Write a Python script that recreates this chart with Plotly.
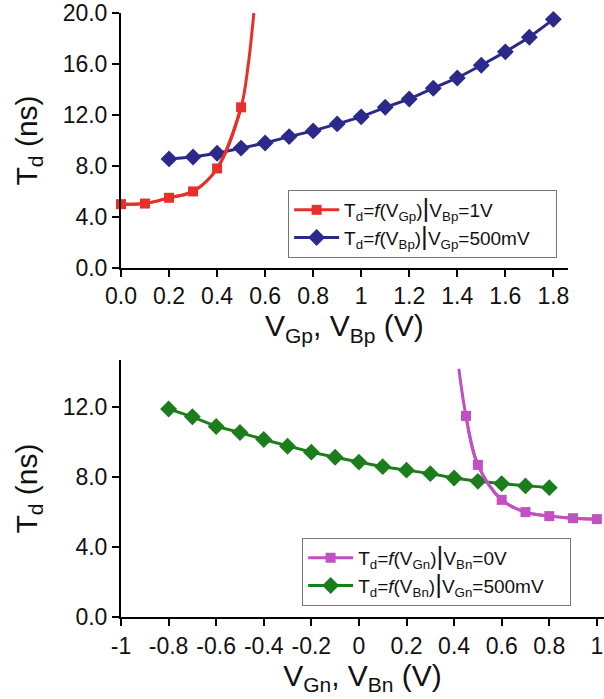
import plotly.graph_objects as go

# ---- Top panel data ----
vgp = [0.0, 0.1, 0.2, 0.3, 0.4, 0.5]
td_vgp = [5.0, 5.05, 5.5, 6.0, 7.8, 12.6]
# red curve continues beyond the last marker
vgp_curve = [0.0, 0.1, 0.2, 0.3, 0.4, 0.5, 0.53, 0.553]
td_vgp_curve = [5.0, 5.05, 5.5, 6.0, 7.8, 12.6, 16.0, 20.0]

vbp = [0.2, 0.3, 0.4, 0.5, 0.6, 0.7, 0.8, 0.9, 1.0, 1.1, 1.2, 1.3, 1.4, 1.5, 1.6, 1.7, 1.8]
td_vbp = [8.55, 8.7, 9.0, 9.4, 9.8, 10.3, 10.75, 11.3, 11.85, 12.6, 13.25, 14.1, 14.9, 15.9, 16.95, 18.1, 19.5]

# ---- Bottom panel data ----
vgn = [0.45, 0.5, 0.6, 0.7, 0.8, 0.9, 1.0]
td_vgn = [11.5, 8.7, 6.7, 6.0, 5.77, 5.65, 5.6]
vgn_curve = [0.42, 0.45, 0.5, 0.6, 0.7, 0.8, 0.9, 1.0]
td_vgn_curve = [14.2, 11.5, 8.7, 6.7, 6.0, 5.77, 5.65, 5.6]

vbn = [-0.8, -0.7, -0.6, -0.5, -0.4, -0.3, -0.2, -0.1, 0.0, 0.1, 0.2, 0.3, 0.4, 0.5, 0.6, 0.7, 0.8]
td_vbn = [11.9, 11.45, 10.9, 10.55, 10.15, 9.77, 9.43, 9.14, 8.86, 8.6, 8.4, 8.2, 7.95, 7.76, 7.63, 7.5, 7.4]

top_xticks = [0.0, 0.2, 0.4, 0.6, 0.8, 1.0, 1.2, 1.4, 1.6, 1.8]
top_xtext = ["0.0", "0.2", "0.4", "0.6", "0.8", "1", "1.2", "1.4", "1.6", "1.8"]
top_yticks = [0, 4, 8, 12, 16, 20]
top_ytext = ["0.0", "4.0", "8.0", "12.0", "16.0", "20.0"]
bot_xticks = [-1, -0.8, -0.6, -0.4, -0.2, 0, 0.2, 0.4, 0.6, 0.8, 1]
bot_xtext = ["-1", "-0.8", "-0.6", "-0.4", "-0.2", "0", "0.2", "0.4", "0.6", "0.8", "1"]
bot_yticks = [0, 4, 8, 12]
bot_ytext = ["0.0", "4.0", "8.0", "12.0"]

RED = "#e8302a"
BLUE = "#2b2a8a"
MAG = "#c150c2"
GREEN = "#1b7d1b"
FONT = "Liberation Sans, Arial, sans-serif"

BAR = "<span style='font-size:26px'>|</span>"
PAD = "&nbsp;&nbsp;&nbsp;&nbsp;"
lab_red = "T<sub>d</sub>=<i>f</i>(V<sub>Gp</sub>)" + BAR + "V<sub>Bp</sub>=1V"
lab_blue = "T<sub>d</sub>=<i>f</i>(V<sub>Bp</sub>)" + BAR + "V<sub>Gp</sub>=500mV" + PAD
lab_mag = "T<sub>d</sub>=<i>f</i>(V<sub>Gn</sub>)" + BAR + "V<sub>Bn</sub>=0V"
lab_green = "T<sub>d</sub>=<i>f</i>(V<sub>Bn</sub>)" + BAR + "V<sub>Gn</sub>=500mV" + PAD

fig = go.Figure()

# Top panel
fig.add_trace(go.Scatter(x=vbp, y=td_vbp, mode="lines+markers", name=lab_blue,
                         line=dict(color=BLUE, width=3),
                         marker=dict(symbol="diamond", size=13, color=BLUE),
                         xaxis="x", yaxis="y", cliponaxis=False, legend="legend", legendrank=2))
fig.add_trace(go.Scatter(x=vgp_curve, y=td_vgp_curve, mode="lines", line=dict(color=RED, width=3, shape="spline"),
                         showlegend=False, xaxis="x", yaxis="y", cliponaxis=False, hoverinfo="skip"))
fig.add_trace(go.Scatter(x=vgp, y=td_vgp, mode="lines+markers", name=lab_red,
                         line=dict(color=RED, width=3, shape="spline"),
                         marker=dict(symbol="square", size=10, color=RED),
                         xaxis="x", yaxis="y", cliponaxis=False, legend="legend", legendrank=1))

# Bottom panel
fig.add_trace(go.Scatter(x=vbn, y=td_vbn, mode="lines+markers", name=lab_green,
                         line=dict(color=GREEN, width=3),
                         marker=dict(symbol="diamond", size=13, color=GREEN),
                         xaxis="x2", yaxis="y2", cliponaxis=False, legend="legend2", legendrank=2))
fig.add_trace(go.Scatter(x=vgn_curve, y=td_vgn_curve, mode="lines", line=dict(color=MAG, width=3, shape="spline"),
                         showlegend=False, xaxis="x2", yaxis="y2", cliponaxis=False, hoverinfo="skip"))
fig.add_trace(go.Scatter(x=vgn, y=td_vgn, mode="lines+markers", name=lab_mag,
                         line=dict(color=MAG, width=3, shape="spline"),
                         marker=dict(symbol="square", size=10, color=MAG),
                         xaxis="x2", yaxis="y2", cliponaxis=False, legend="legend2", legendrank=1))

axis_common = dict(showline=True, linecolor="black", linewidth=2, ticks="outside", ticklen=7,
                   tickwidth=2, tickcolor="black", showgrid=False, zeroline=False, automargin=False,
                   tickfont=dict(family=FONT, size=23, color="#111"))

title_font = dict(family=FONT, size=30, color="#111")

fig.update_layout(
    width=604, height=699,
    margin=dict(l=121, r=0, t=13, b=82),
    plot_bgcolor="white", paper_bgcolor="white",
    font=dict(family=FONT, color="#111"),
    xaxis=dict(domain=[0, 0.925], range=[0, 1.86], anchor="y",
               tickvals=top_xticks, ticktext=top_xtext,
               title=dict(text="V<sub>Gp</sub>, V<sub>Bp</sub> (V)", font=title_font, standoff=0),
               **axis_common),
    yaxis=dict(domain=[0.578, 1.0], range=[0, 20], anchor="x",
               tickvals=top_yticks, ticktext=top_ytext,
               title=dict(text="T<sub>d</sub> (ns)", font=title_font, standoff=16),
               **axis_common),
    xaxis2=dict(domain=[0, 1.0], range=[-1, 1.03], anchor="y2",
                tickvals=bot_xticks, ticktext=bot_xtext,
                title=dict(text="V<sub>Gn</sub>, V<sub>Bn</sub> (V)", font=title_font, standoff=0),
                **axis_common),
    yaxis2=dict(domain=[0, 0.4255], range=[0, 14.7], anchor="x2",
                tickvals=bot_yticks, ticktext=bot_ytext,
                title=dict(text="T<sub>d</sub> (ns)", font=title_font, standoff=16),
                **axis_common),
    legend=dict(x=0.346, y=0.707, xanchor="left", yanchor="top", bgcolor="white",
                bordercolor="#777", borderwidth=1, font=dict(family=FONT, size=19, color="#111"),
                tracegroupgap=0, itemwidth=45),
    legend2=dict(x=0.375, y=0.131, xanchor="left", yanchor="top", bgcolor="white",
                 bordercolor="#777", borderwidth=1, font=dict(family=FONT, size=19, color="#111"),
                 tracegroupgap=0, itemwidth=45),
)

# remove the page's default body margin so the figure sits at the window's corner
fig.write_html("out.html", config={"displayModeBar": False},
               post_script="document.body.style.margin='0';")
